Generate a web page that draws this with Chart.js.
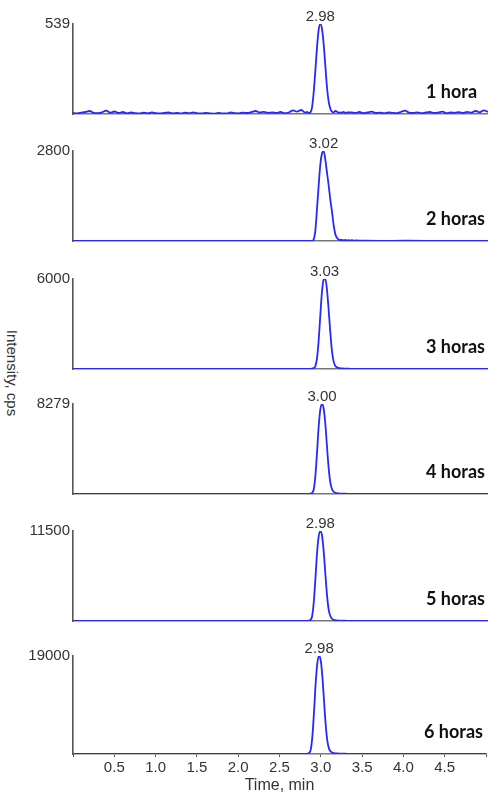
<!DOCTYPE html>
<html>
<head>
<meta charset="utf-8">
<script src="https://cdn.jsdelivr.net/npm/chart.js@4.4.1/dist/chart.umd.min.js"></script>
<style>
  html, body { margin: 0; padding: 0; background: #fff; }
  #wrap { position: relative; width: 488px; height: 792px; overflow: hidden; }
  #wrap canvas { position: absolute; left: 0; }
  #ytitle {
    position: absolute; left: 12px; top: 373px;
    transform: translate(-50%, -50%) rotate(90deg);
    font: 15px "Liberation Sans", Arial, sans-serif; color: #333; white-space: nowrap;
  }
</style>
</head>
<body>
<div id="wrap">
  <div id="ytitle">Intensity, cps</div>
</div>
<script>
// retention time axis (min) for the 1 hora trace (noisy baseline)
const timeP1 = [
  0, 0.05, 0.1, 0.15, 0.2, 0.25, 0.3, 0.35, 0.4, 0.45, 0.5, 0.55, 0.6, 0.65, 0.7, 0.75,
  0.8, 0.85, 0.9, 0.95, 1, 1.05, 1.1, 1.15, 1.2, 1.25, 1.3, 1.35, 1.4, 1.45, 1.5, 1.55,
  1.6, 1.65, 1.7, 1.75, 1.8, 1.85, 1.9, 1.95, 2, 2.05, 2.1, 2.15, 2.2, 2.25, 2.3, 2.35,
  2.4, 2.45, 2.5, 2.55, 2.6, 2.65, 2.7, 2.75,
  2.8, 2.82, 2.84, 2.86, 2.88, 2.9, 2.92, 2.94, 2.96, 2.98, 3, 3.02, 3.04, 3.06, 3.08,
  3.1, 3.12, 3.14, 3.16, 3.18, 3.2, 3.22, 3.24, 3.26, 3.28, 3.3,
  3.35, 3.4, 3.45, 3.5, 3.55, 3.6, 3.65, 3.7, 3.75, 3.8, 3.85, 3.9, 3.95, 4, 4.05, 4.1,
  4.15, 4.2, 4.25, 4.3, 4.35, 4.4, 4.45, 4.5, 4.55, 4.6, 4.65, 4.7, 4.75, 4.8, 4.85,
  4.9, 4.95, 5
];
// retention time axis (min) for the other traces
const timeMain = [
  0, 0.5, 1, 1.5, 2, 2.5, 2.7,
  2.8, 2.82, 2.84, 2.86, 2.88, 2.9, 2.92, 2.94, 2.96, 2.98, 3, 3.02, 3.04, 3.06, 3.08,
  3.1, 3.12, 3.14, 3.16, 3.18, 3.2, 3.22, 3.24, 3.26, 3.28, 3.3, 3.32, 3.34, 3.36, 3.38, 3.4,
  3.5, 3.7, 4, 4.5, 5
];

// intensities (cps)
const int1h = [
  6, 4, 8, 12, 18, 7, 5, 10, 20, 8, 15, 6, 12, 4, 9, 5, 3, 8, 4, 10,
  5, 3, 7, 9, 4, 6, 3, 8, 5, 10, 4, 3, 6, 4, 2, 7, 4, 3, 9, 5,
  4, 8, 6, 11, 18, 9, 13, 7, 10, 6, 12, 5, 9, 22, 14, 24,
  8, 12, 6, 10, 40, 130, 260, 400, 505, 539, 510, 420, 290, 160, 75,
  32, 14, 9, 18, 14, 7, 10, 8, 12, 6, 9,
  10, 6, 12, 5, 9, 14, 6, 8, 4, 10, 7, 5, 12, 20, 8, 6, 10, 5, 9, 12,
  6, 8, 14, 5, 9, 7, 11, 6, 13, 8, 18, 10, 22, 12
];
const int2h = [
  5, 4, 6, 3, 5, 4, 6,
  5, 4, 6, 3, 5, 50, 330, 1010, 1740, 2380, 2720, 2800, 2530, 2130, 1740,
  1290, 920, 500, 220, 100, 45, 28, 34, 22, 36, 16, 28, 14, 25, 12, 16,
  10, 6, 8, 5, 6
];
const int3h = [
  12, 10, 14, 11, 13, 12, 14,
  10, 12, 9, 14, 18, 60, 180, 720, 1920, 3600, 5160, 5950, 6000, 5280, 3960,
  2460, 1200, 510, 210, 110, 66, 48, 36, 30, 24, 20, 18, 15, 14, 12, 12,
  12, 10, 12, 11, 12
];
const int4h = [
  14, 12, 15, 13, 14, 12, 13,
  10, 12, 14, 33, 99, 414, 1656, 3808, 6209, 7782, 8279, 7865, 6458, 4388, 2401,
  1076, 455, 207, 116, 75, 50, 40, 33, 28, 24, 20, 18, 16, 14, 13, 12,
  12, 13, 11, 12, 13
];
const int5h = [
  18, 16, 20, 17, 19, 16, 18,
  15, 20, 46, 138, 575, 2300, 5290, 8625, 10810, 11500, 10925, 8970, 6095, 3335, 1495,
  633, 288, 161, 104, 69, 55, 46, 40, 35, 30, 28, 25, 23, 21, 20, 18,
  17, 16, 18, 16, 17
];
const int6h = [
  25, 22, 28, 24, 26, 22, 25,
  20, 30, 76, 228, 950, 3800, 8740, 14250, 17860, 19000, 18050, 14820, 10070, 5510, 2470,
  1045, 475, 266, 171, 114, 95, 80, 70, 60, 52, 46, 40, 36, 32, 30, 28,
  26, 24, 25, 22, 24
];

const seriesTimes = [timeP1, timeMain, timeMain, timeMain, timeMain, timeMain];
const seriesVals = [int1h, int2h, int3h, int4h, int5h, int6h];
const axisMax = [539, 2800, 6000, 8279, 11500, 19000];
const peakRT = [2.98, 3.02, 3.03, 3.00, 2.98, 2.98];
const sampleLabels = ["1 hora", "2 horas", "3 horas", "4 horas", "5 horas", "6 horas"];

// panel placement (px)
const plotTops = [24, 151, 279, 404, 531, 656];
const plotH = 98;
const padTop = 24;

Chart.defaults.font.family = '"Liberation Sans", Arial, sans-serif';
Chart.defaults.font.size = 15;
Chart.defaults.color = "#333";

const labelsPlugin = {
  id: "peakLabels",
  afterDatasetsDraw(chart, args, opts) {
    const { ctx, chartArea, scales } = chart;
    const px = scales.x.getPixelForValue(opts.rt);
    const py = scales.y.getPixelForValue(opts.max);
    ctx.save();
    ctx.fillStyle = "#333";
    ctx.font = '15px "Liberation Sans", Arial, sans-serif';
    ctx.textAlign = "center";
    ctx.textBaseline = "alphabetic";
    ctx.fillText(opts.rt.toFixed(2), px, py - 3);
    ctx.fillStyle = "#111";
    ctx.font = 'bold 18px Lato, "Open Sans", sans-serif';
    ctx.textAlign = "left";
    ctx.textBaseline = "middle";
    ctx.fillText(opts.text, chartArea.right - 62, chartArea.bottom - 22);
    ctx.restore();
  },
};

const wrap = document.getElementById("wrap");

seriesVals.forEach((vals, i) => {
  const last = i === seriesVals.length - 1;
  const top = plotTops[i] - padTop;
  const height = last ? 795 - top : padTop + plotH + 4;

  const canvas = document.createElement("canvas");
  canvas.width = 488;
  canvas.height = height;
  canvas.style.top = top + "px";
  wrap.appendChild(canvas);

  const points = seriesTimes[i].map((t, k) => ({ x: t, y: vals[k] }));

  new Chart(canvas, {
    type: "line",
    data: {
      datasets: [
        {
          data: points,
          borderColor: "rgb(40,40,250)",
          borderWidth: 1.8,
          pointRadius: 0,
          cubicInterpolationMode: "monotone",
          fill: false,
        },
      ],
    },
    options: {
      responsive: false,
      animation: false,
      layout: { padding: { top: padTop, bottom: last ? 0 : 4, left: 0, right: 0 } },
      plugins: {
        legend: { display: false },
        tooltip: { enabled: false },
        peakLabels: { rt: peakRT[i], max: axisMax[i], text: sampleLabels[i] },
      },
      scales: {
        x: {
          type: "linear",
          min: 0,
          max: 5,
          border: { display: true, color: "#777", width: 1.5 },
          grid: {
            display: last,
            drawOnChartArea: false,
            drawTicks: last,
            tickLength: 3,
            color: "#555",
          },
          ticks: {
            display: last,
            stepSize: 0.5,
            autoSkip: false,
            maxRotation: 0,
            padding: 2,
            callback: (v) => (v === 0 || v === 5 ? "" : v.toFixed(1)),
          },
          title: {
            display: last,
            text: "Time, min",
            font: { size: 16 },
            padding: { top: 0, bottom: 0 },
          },
          afterFit: (scale) => {
            scale.height = last ? height - padTop - plotH : 0;
          },
        },
        y: {
          min: 0,
          max: axisMax[i],
          border: { display: true, color: "#555", width: 1.6 },
          grid: { display: false, drawTicks: false },
          ticks: { padding: 3, callback: (v) => String(v) },
          afterBuildTicks: (scale) => {
            scale.ticks = [{ value: axisMax[i] }];
          },
          afterFit: (scale) => {
            scale.width = 73;
          },
        },
      },
    },
    plugins: [labelsPlugin],
  });
});
</script>
</body>
</html>
